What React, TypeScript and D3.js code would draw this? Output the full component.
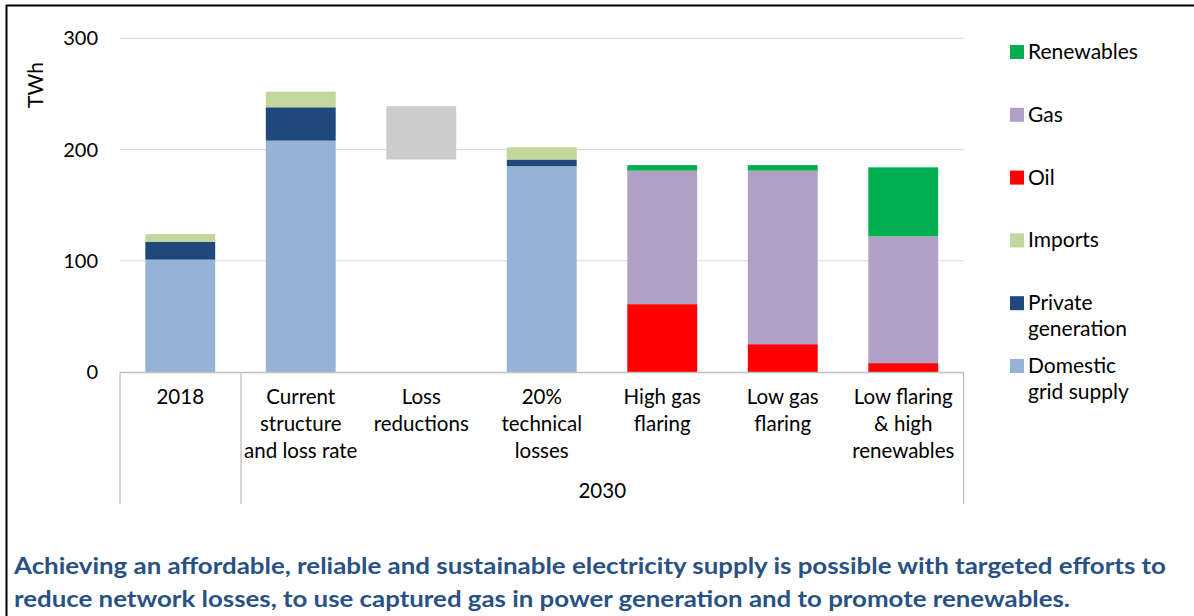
import React from "react";
import * as d3 from "d3";

const categories = ["2018", "Current", "Loss", "Tech20", "HighGas", "LowGas", "LowFlaring"];
const categoryLabels = [
  ["2018"],
  ["Current", "structure", "and loss rate"],
  ["Loss", "reductions"],
  ["20%", "technical", "losses"],
  ["High gas", "flaring"],
  ["Low gas", "flaring"],
  ["Low flaring", "& high", "renewables"],
];
const seriesKeys = ["domestic", "private", "imports", "oil", "gas", "renewables"];
const domestic = [101, 208, 0, 185, 0, 0, 0];
const privateGen = [16, 30, 0, 6, 0, 0, 0];
const imports = [7, 14, 0, 11, 0, 0, 0];
const oil = [0, 0, 0, 0, 61, 25, 8];
const gas = [0, 0, 0, 0, 120, 156, 114];
const renewables = [0, 0, 0, 0, 5, 5, 62];
const lossRange = [191, 239];
const yTicks = [0, 100, 200, 300];
const groupLabel2030 = "2030";
const caption = [
  "Achieving an affordable, reliable and sustainable electricity supply is possible with targeted efforts to",
  "reduce network losses, to use captured gas in power generation and to promote renewables.",
];

const colors: Record<string, string> = {
  domestic: "#95b3d7",
  private: "#1f497d",
  imports: "#c3d69b",
  oil: "#ff0000",
  gas: "#b2a1c7",
  renewables: "#00b050",
};

const legendOrder = ["renewables", "gas", "oil", "imports", "private", "domestic"];
const legendLabels: Record<string, string[]> = {
  renewables: ["Renewables"],
  gas: ["Gas"],
  oil: ["Oil"],
  imports: ["Imports"],
  private: ["Private", "generation"],
  domestic: ["Domestic", "grid supply"],
};

export default function App() {
  const W = 1194, H = 616;
  const font = "Lato, 'Open Sans', sans-serif";
  const x = d3.scaleBand<string>().domain(categories).range([120, 963.5]).paddingInner(0.42).paddingOuter(0.21);
  const y = d3.scaleLinear().domain([0, 300]).range([372, 38.3]);

  const table = categories.map((c, i) => ({
    cat: c,
    domestic: domestic[i],
    private: privateGen[i],
    imports: imports[i],
    oil: oil[i],
    gas: gas[i],
    renewables: renewables[i],
  }));
  const stacked = d3.stack<any>().keys(seriesKeys)(table);

  const axisColor = "#bfbfbf";
  const x0 = 120, x1 = 963.5, xDiv = 241;
  const legendY = d3.scalePoint<string>().domain(legendOrder).range([52, 366]);

  return (
    <svg width={W} height={H} style={{ position: "absolute", left: 0, top: 0, background: "#fff" }}>
      <rect x={0} y={0} width={W} height={H} fill="#fff" />
      {/* frame */}
      <line x1={6} x2={W} y1={5.5} y2={5.5} stroke="#000" strokeWidth={2} />
      <line x1={6.5} x2={6.5} y1={5} y2={H} stroke="#000" strokeWidth={2} />

      {/* gridlines */}
      {yTicks.filter((t) => t > 0).map((t) => (
        <line key={t} x1={x0} x2={x1} y1={y(t)} y2={y(t)} stroke="#d9d9d9" strokeWidth={1.2} />
      ))}
      {/* y tick labels */}
      {yTicks.map((t) => (
        <text key={t} x={98} y={y(t)} dy="0.35em" textAnchor="end" fontFamily={font} fontSize={20} fill="#000">
          {t}
        </text>
      ))}
      <text transform={`translate(43,85) rotate(-90)`} textAnchor="middle" fontFamily={font} fontSize={21} fill="#000">
        TWh
      </text>

      {/* bars */}
      {stacked.map((s) => (
        <g key={s.key} fill={colors[s.key]}>
          {s.map((d, i) =>
            d[1] - d[0] > 0 ? (
              <rect key={i} x={x(categories[i])} width={x.bandwidth()} y={y(d[1])} height={y(d[0]) - y(d[1])} />
            ) : null
          )}
        </g>
      ))}
      {/* loss reductions floating bar */}
      <rect x={x("Loss")} width={x.bandwidth()} y={y(lossRange[1])} height={y(lossRange[0]) - y(lossRange[1])} fill="#cccccc" />

      {/* category axis */}
      <line x1={x0} x2={x1} y1={372.5} y2={372.5} stroke={axisColor} strokeWidth={1.3} />
      {[x0, xDiv, x1].map((xx, i) => (
        <line key={i} x1={xx} x2={xx} y1={372} y2={504} stroke={axisColor} strokeWidth={1.3} />
      ))}
      {categoryLabels.map((lines, i) => (
        <text key={i} textAnchor="middle" fontFamily={font} fontSize={20.5} fill="#000">
          {lines.map((l, j) => (
            <tspan key={j} x={(x(categories[i]) as number) + x.bandwidth() / 2} y={404 + j * 27}>
              {l}
            </tspan>
          ))}
        </text>
      ))}
      <text x={(xDiv + x1) / 2} y={498} textAnchor="middle" fontFamily={font} fontSize={20.5} fill="#000">
        {groupLabel2030}
      </text>

      {/* legend */}
      {legendOrder.map((k) => {
        const cy = legendY(k) as number;
        return (
          <g key={k}>
            <rect x={1010} y={cy - 7} width={14} height={14} fill={colors[k]} />
            <text fontFamily={font} fontSize={21} fill="#000">
              {legendLabels[k].map((l, j) => (
                <tspan key={j} x={1028} y={cy + 7 + j * 26}>
                  {l}
                </tspan>
              ))}
            </text>
          </g>
        );
      })}

      {/* caption */}
      {caption.map((c, i) => (
        <text
          key={i}
          x={14}
          y={574 + i * 33}
          fontFamily={font}
          fontWeight="bold"
          fontSize={22}
          fill="#2a5183"
          textLength={i === 0 ? 1152 : 1056}
          lengthAdjust="spacingAndGlyphs"
        >
          {c}
        </text>
      ))}
    </svg>
  );
}
